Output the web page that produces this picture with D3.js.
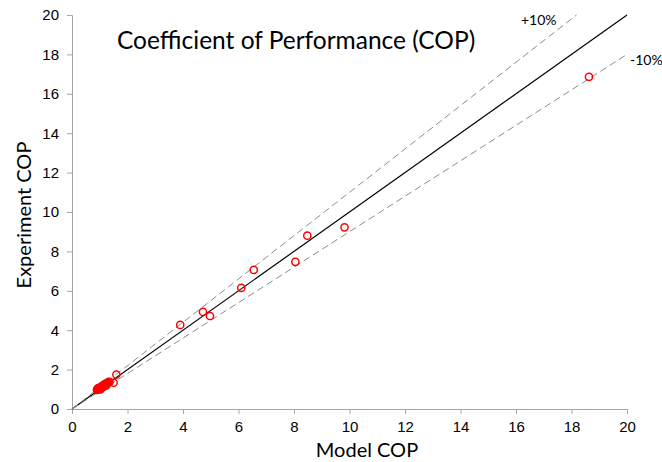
<!DOCTYPE html>
<html>
<head>
<meta charset="utf-8">
<script src="https://cdn.jsdelivr.net/npm/d3@7"></script>
<style>
  html, body { margin: 0; padding: 0; background: #fff; }
  svg { display: block; }
</style>
</head>
<body>
<svg id="chart" width="662" height="462"></svg>
<script>
// Model vs. experiment COP values
const modelCOP = [
  0.90, 0.92, 0.95, 0.97, 1.00, 1.02, 1.05, 1.07, 1.10, 1.12,
  1.15, 1.17, 1.20, 1.22, 1.25, 1.27, 1.30, 1.32, 1.35, 0.93,
  1.03, 1.13, 1.23, 1.50, 1.60,
  3.90, 4.72, 4.97, 6.10, 6.55, 8.05, 8.48, 9.82, 18.63
];
const experimentCOP = [
  0.97, 1.00, 1.02, 1.06, 1.05, 1.10, 1.10, 1.15, 1.14, 1.20,
  1.19, 1.25, 1.24, 1.29, 1.28, 1.33, 1.32, 1.38, 1.37, 1.05,
  1.00, 1.12, 1.19, 1.33, 1.75,
  4.27, 4.93, 4.72, 6.15, 7.06, 7.47, 8.80, 9.22, 16.86
];
const xTicks = [0, 2, 4, 6, 8, 10, 12, 14, 16, 18, 20];
const yTicks = [0, 2, 4, 6, 8, 10, 12, 14, 16, 18, 20];
// Reference lines: perfect agreement and ±10% bands
const refSlopes = [1.0, 1.1, 0.9];
const bandLabels = ["+10%", "-10%"];

const svg = d3.select("#chart");
const margin = { left: 72, right: 35, top: 15, bottom: 53 };
const W = 662, H = 462;

const x = d3.scaleLinear().domain([0, 20]).range([margin.left, W - margin.right]);
const y = d3.scaleLinear().domain([0, 20]).range([H - margin.bottom, margin.top]);

const axisColor = "#a6a6a6";
const tickFont = "'Liberation Sans', Arial, sans-serif";
const titleFont = "Lato, 'Open Sans', sans-serif";

// Axes
const gx = svg.append("g")
  .attr("transform", `translate(0,${y(0)})`)
  .call(d3.axisBottom(x).tickValues(xTicks).tickSize(5).tickPadding(7).tickFormat(d3.format("d")));
const gy = svg.append("g")
  .attr("transform", `translate(${x(0)},0)`)
  .call(d3.axisLeft(y).tickValues(yTicks).tickSize(5).tickPadding(8).tickFormat(d3.format("d")));

[gx, gy].forEach(g => {
  g.select(".domain").attr("stroke", axisColor).attr("stroke-width", 1);
  g.selectAll(".tick line").attr("stroke", axisColor);
  g.selectAll(".tick text")
    .attr("fill", "#000")
    .style("font-family", tickFont)
    .style("font-size", "15px");
});

// Reference lines
const lineEnd = s => Math.min(20, 20 / s);
svg.append("g").selectAll("line")
  .data(refSlopes)
  .join("line")
  .attr("x1", x(0)).attr("y1", y(0))
  .attr("x2", s => x(lineEnd(s)))
  .attr("y2", s => y(lineEnd(s) * s))
  .attr("stroke", (s, i) => i === 0 ? "#000" : "#8c8c8c")
  .attr("stroke-width", (s, i) => i === 0 ? 1.2 : 1)
  .attr("stroke-dasharray", (s, i) => i === 0 ? null : "7,4");

// Band labels
svg.append("text")
  .attr("x", 521)
  .attr("y", 25)
  .text(bandLabels[0])
  .style("font-family", titleFont).style("font-size", "14px").attr("fill", "#000");
svg.append("text")
  .attr("x", 630)
  .attr("y", 65)
  .text(bandLabels[1])
  .style("font-family", titleFont).style("font-size", "14px").attr("fill", "#000");

// Data points
svg.append("g").selectAll("circle")
  .data(modelCOP.map((m, i) => [m, experimentCOP[i]]))
  .join("circle")
  .attr("cx", d => x(d[0]))
  .attr("cy", d => y(d[1]))
  .attr("r", 3.6)
  .attr("fill", "none")
  .attr("stroke", "#ff0000")
  .attr("stroke-width", 1.5);

// Title and axis titles
svg.append("text")
  .attr("x", 117).attr("y", 49)
  .text("Coefficient of Performance (COP)")
  .style("font-family", titleFont).style("font-size", "24.5px").attr("fill", "#000");

svg.append("text")
  .attr("x", 367).attr("y", 457)
  .attr("text-anchor", "middle")
  .text("Model COP")
  .style("font-family", titleFont).style("font-size", "20px").attr("fill", "#000");

svg.append("text")
  .attr("transform", `translate(31,215) rotate(-90)`)
  .attr("text-anchor", "middle")
  .text("Experiment COP")
  .style("font-family", titleFont).style("font-size", "20px").attr("fill", "#000");
</script>
</body>
</html>
